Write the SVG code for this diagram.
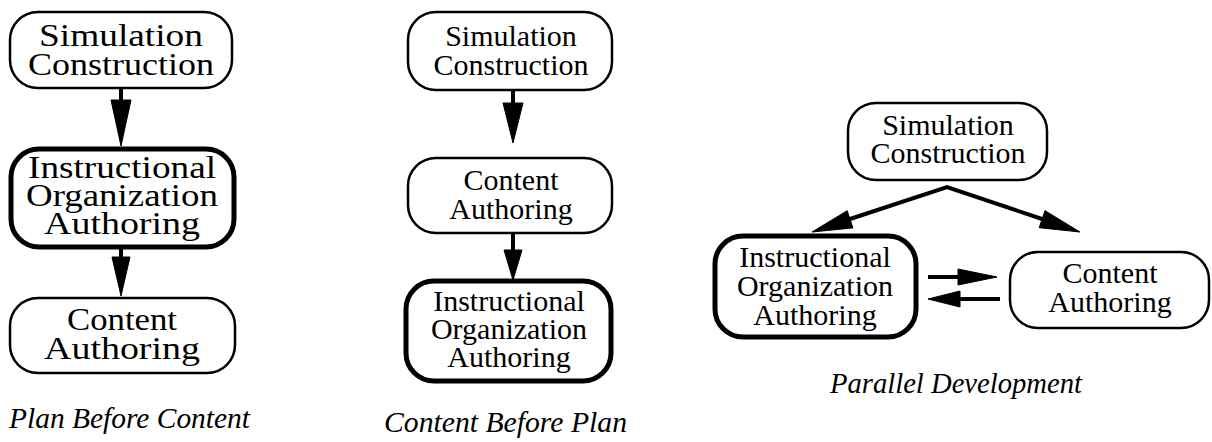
<svg xmlns="http://www.w3.org/2000/svg" width="1212" height="442" viewBox="0 0 1212 442">
<style>
.box{fill:#fff;stroke:#000;stroke-width:2.5}
.thick{fill:#fff;stroke:#000;stroke-width:5}
.lbl{font-family:"Liberation Serif","Times New Roman",serif;font-size:30px;text-anchor:middle;fill:#000}
.big{font-size:31px}
.cap{font-family:"Liberation Serif","Times New Roman",serif;font-size:29px;font-style:italic;fill:#000}
.shaft{stroke:#000;stroke-width:4;fill:none}
.head{fill:#000;stroke:#000;stroke-width:1}
</style>
<rect width="1212" height="442" fill="#fff"/>
<g id="connectors">
  <line class="shaft" x1="121" y1="88" x2="121" y2="105"/>
  <polygon class="head" points="111,100 131,100 121,146"/>
  <line class="shaft" x1="121" y1="248" x2="121" y2="262"/>
  <polygon class="head" points="112,257 130,257 121,296"/>
  <line class="shaft" x1="513" y1="90" x2="513" y2="108"/>
  <polygon class="head" points="503,103 523,103 513,143"/>
  <line class="shaft" x1="513" y1="233" x2="513" y2="254"/>
  <polygon class="head" points="504,250 522,250 513,280"/>
  <polyline class="shaft" points="850,219 947,187 1042,219"/>
  <polygon class="head" points="812,232 852.9,227.9 847.2,210.7"/>
  <polygon class="head" points="1080,232 1039.2,227.7 1045,210.7"/>
  <line class="shaft" x1="928" y1="277" x2="962" y2="277"/>
  <polygon class="head" points="958,269 997,277 958,285"/>
  <line class="shaft" x1="1000" y1="299" x2="955" y2="299"/>
  <polygon class="head" points="960,291 928,299 960,307"/>
</g>
<g id="p1-sim">
  <rect class="box" x="10" y="12" width="222" height="76" rx="28"/>
  <text class="lbl big" x="121" y="46" textLength="164" lengthAdjust="spacingAndGlyphs">Simulation</text>
  <text class="lbl big" x="121" y="75" textLength="186" lengthAdjust="spacingAndGlyphs">Construction</text>
</g>
<g id="p1-instr">
  <rect class="thick" x="11" y="149" width="223" height="98" rx="28"/>
  <text class="lbl big" x="122" y="178" textLength="188" lengthAdjust="spacingAndGlyphs">Instructional</text>
  <text class="lbl big" x="122" y="206" textLength="192" lengthAdjust="spacingAndGlyphs">Organization</text>
  <text class="lbl big" x="122" y="234" textLength="156" lengthAdjust="spacingAndGlyphs">Authoring</text>
</g>
<g id="p1-content">
  <rect class="box" x="10" y="298" width="225" height="75" rx="28"/>
  <text class="lbl big" x="122" y="330" textLength="110" lengthAdjust="spacingAndGlyphs">Content</text>
  <text class="lbl big" x="122" y="359" textLength="156" lengthAdjust="spacingAndGlyphs">Authoring</text>
</g>
<text id="cap1" class="cap" x="9" y="428" textLength="241" lengthAdjust="spacingAndGlyphs">Plan Before Content</text>
<g id="p2-sim">
  <rect class="box" x="408" y="12" width="204" height="78" rx="28"/>
  <text class="lbl" x="511" y="46">Simulation</text>
  <text class="lbl" x="511" y="75">Construction</text>
</g>
<g id="p2-content">
  <rect class="box" x="408" y="158" width="204" height="75" rx="28"/>
  <text class="lbl" x="511" y="190">Content</text>
  <text class="lbl" x="511" y="219">Authoring</text>
</g>
<g id="p2-instr">
  <rect class="thick" x="406" y="281" width="205" height="100" rx="28"/>
  <text class="lbl" x="509" y="311">Instructional</text>
  <text class="lbl" x="509" y="339">Organization</text>
  <text class="lbl" x="509" y="367">Authoring</text>
</g>
<text id="cap2" class="cap" x="384" y="432" textLength="243" lengthAdjust="spacingAndGlyphs">Content Before Plan</text>
<g id="p3-sim">
  <rect class="box" x="848" y="103" width="199" height="77" rx="28"/>
  <text class="lbl" x="948" y="135">Simulation</text>
  <text class="lbl" x="948" y="163">Construction</text>
</g>
<g id="p3-instr">
  <rect class="thick" x="715" y="236" width="201" height="101" rx="28"/>
  <text class="lbl" x="815" y="267">Instructional</text>
  <text class="lbl" x="815" y="296">Organization</text>
  <text class="lbl" x="815" y="325">Authoring</text>
</g>
<g id="p3-content">
  <rect class="box" x="1010" y="252" width="199" height="76" rx="28"/>
  <text class="lbl" x="1110" y="283">Content</text>
  <text class="lbl" x="1110" y="312">Authoring</text>
</g>
<text id="cap3" class="cap" x="830" y="393" textLength="252" lengthAdjust="spacingAndGlyphs">Parallel Development</text>
</svg>
